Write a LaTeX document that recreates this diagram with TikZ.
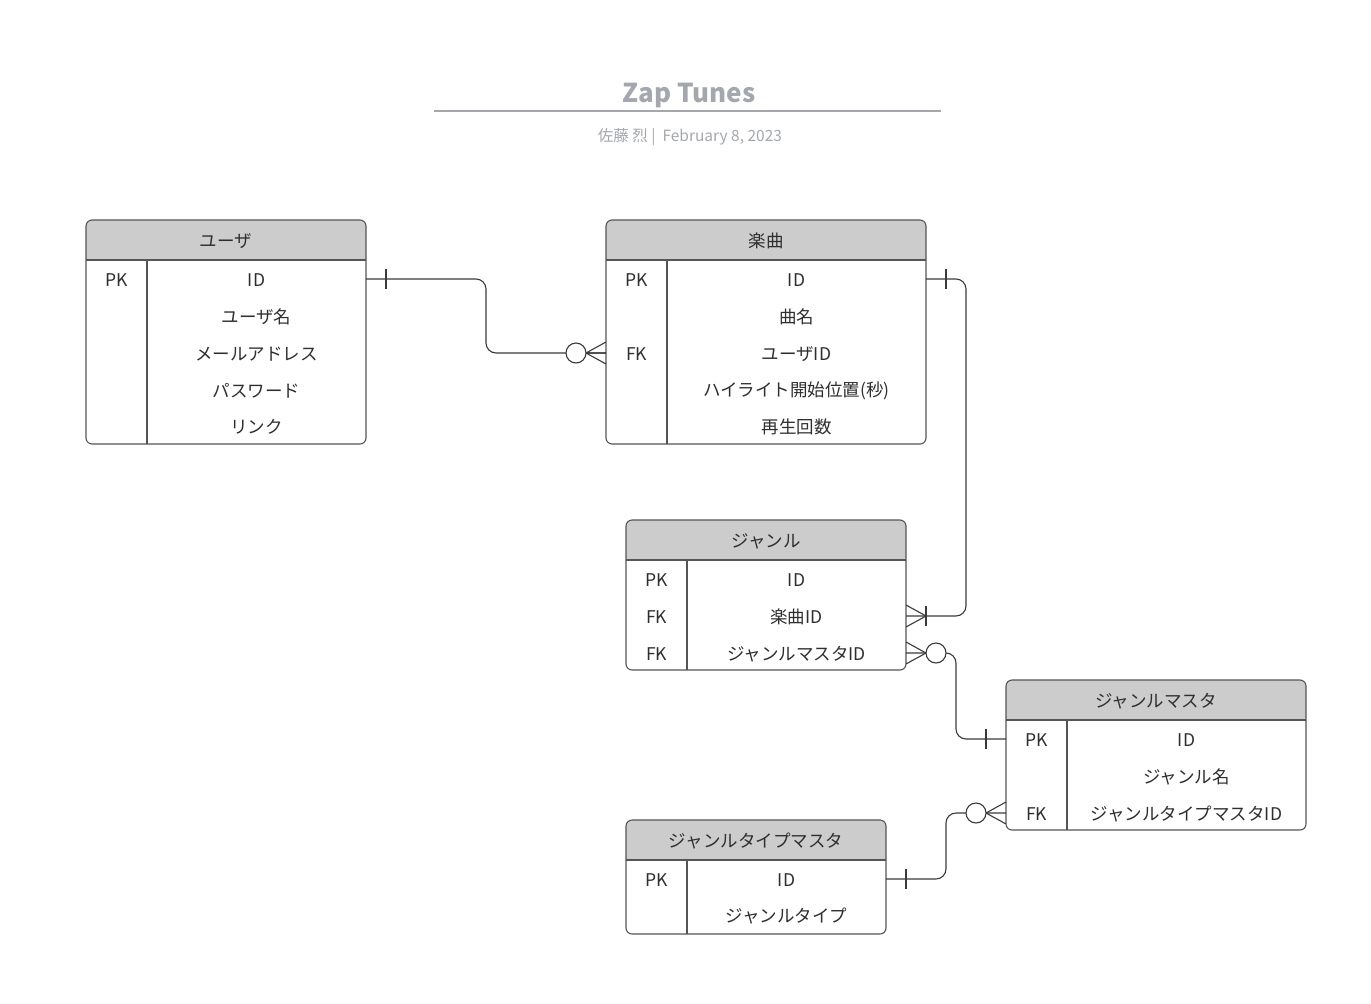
\documentclass[tikz,border=0pt]{standalone}
\usepackage{fontspec}
\setmainfont{Noto Sans CJK JP}
\definecolor{headfill}{HTML}{CCCCCC}
\definecolor{bordercol}{HTML}{555555}
\definecolor{conncol}{HTML}{3A3A3A}
\definecolor{txtcol}{HTML}{2E2E2E}
\definecolor{titlecol}{HTML}{A4A7AE}
\begin{document}
\begin{tikzpicture}[x=1pt,y=-1pt,
  tbl/.style={draw=bordercol,line width=1.1pt,rounded corners=6pt,inner sep=0pt},
  rule/.style={draw=bordercol,line width=1.1pt},
  head/.style={text=txtcol,font=\fontsize{17.5}{20}\selectfont,inner sep=0pt,yshift=-1pt},
  cell/.style={text=txtcol,font=\fontsize{17.5}{20}\selectfont,inner sep=0pt,yshift=-1pt},
  conn/.style={draw=conncol,line width=1.1pt,rounded corners=10pt},
  mk/.style={draw=conncol,line width=1.1pt},
  ring/.style={draw=conncol,line width=1.1pt,fill=white}]
\useasboundingbox (0,0) rectangle (1371,1004);
% title
\node[text=titlecol,font=\bfseries\fontsize{26}{30}\selectfont,inner sep=0pt] (title) at (689,96) {Zap Tunes};
\draw[titlecol,line width=1.8pt] (434,111) -- (941,111);
\node[text=titlecol,font=\fontsize{15.5}{18}\selectfont,inner sep=0pt] (sub) at (690,137) {佐藤 烈 |\ \ February 8, 2023};

% ---------- ユーザ ----------
\fill[headfill] (86,260) [rounded corners=6pt] -- (86,220) -- (366,220) [sharp corners] -- (366,260) -- cycle;
\node[tbl,minimum width=280pt,minimum height=224pt] (user) at (226,332) {};
\draw[rule] (86,260) -- (366,260);
\draw[rule] (147,260) -- (147,444);
\node[head] (user-h) at (226,240) {ユーザ};
\node[cell] (user-pk) at (116.5,279) {PK};
\node[cell] (user-id) at (256.5,279) {ID};
\node[cell] (user-name) at (256.5,316) {ユーザ名};
\node[cell] (user-mail) at (256.5,353) {メールアドレス};
\node[cell] (user-pw) at (256.5,390) {パスワード};
\node[cell] (user-link) at (256.5,426) {リンク};

% ---------- 楽曲 ----------
\fill[headfill] (606,260) [rounded corners=6pt] -- (606,220) -- (926,220) [sharp corners] -- (926,260) -- cycle;
\node[tbl,minimum width=320pt,minimum height=224pt] (song) at (766,332) {};
\draw[rule] (606,260) -- (926,260);
\draw[rule] (667,260) -- (667,444);
\node[head] (song-h) at (766,240) {楽曲};
\node[cell] (song-pk) at (636.5,279) {PK};
\node[cell] (song-fk) at (636.5,353) {FK};
\node[cell] (song-id) at (796.5,279) {ID};
\node[cell] (song-name) at (796.5,316) {曲名};
\node[cell] (song-uid) at (796.5,353) {ユーザID};
\node[cell] (song-hl) at (796.5,390) {ハイライト開始位置(秒)};
\node[cell] (song-cnt) at (796.5,426) {再生回数};

% ---------- ジャンル ----------
\fill[headfill] (626,560) [rounded corners=6pt] -- (626,520) -- (906,520) [sharp corners] -- (906,560) -- cycle;
\node[tbl,minimum width=280pt,minimum height=150pt] (genre) at (766,595) {};
\draw[rule] (626,560) -- (906,560);
\draw[rule] (687,560) -- (687,670);
\node[head] (genre-h) at (766,540) {ジャンル};
\node[cell] (genre-pk) at (656.5,579) {PK};
\node[cell] (genre-fk1) at (656.5,616) {FK};
\node[cell] (genre-fk2) at (656.5,653) {FK};
\node[cell] (genre-id) at (796.5,579) {ID};
\node[cell] (genre-sid) at (796.5,616) {楽曲ID};
\node[cell] (genre-mid) at (796.5,653) {ジャンルマスタID};

% ---------- ジャンルマスタ ----------
\fill[headfill] (1006,720) [rounded corners=6pt] -- (1006,680) -- (1306,680) [sharp corners] -- (1306,720) -- cycle;
\node[tbl,minimum width=300pt,minimum height=150pt] (gm) at (1156,755) {};
\draw[rule] (1006,720) -- (1306,720);
\draw[rule] (1067,720) -- (1067,830);
\node[head] (gm-h) at (1156,700) {ジャンルマスタ};
\node[cell] (gm-pk) at (1036.5,739) {PK};
\node[cell] (gm-fk) at (1036.5,813) {FK};
\node[cell] (gm-id) at (1186.5,739) {ID};
\node[cell] (gm-name) at (1186.5,776) {ジャンル名};
\node[cell] (gm-tid) at (1186.5,813) {ジャンルタイプマスタID};

% ---------- ジャンルタイプマスタ ----------
\fill[headfill] (626,860) [rounded corners=6pt] -- (626,820) -- (886,820) [sharp corners] -- (886,860) -- cycle;
\node[tbl,minimum width=260pt,minimum height=114pt] (gtm) at (756,877) {};
\draw[rule] (626,860) -- (886,860);
\draw[rule] (687,860) -- (687,934);
\node[head] (gtm-h) at (756,840) {ジャンルタイプマスタ};
\node[cell] (gtm-pk) at (656.5,879) {PK};
\node[cell] (gtm-id) at (786.5,879) {ID};
\node[cell] (gtm-type) at (786.5,915) {ジャンルタイプ};

% ---------- attachment points ----------
\coordinate (a-user) at (366,279);
\coordinate (a-songfk) at (606,353);
\coordinate (a-songid) at (926,279);
\coordinate (a-genresid) at (906,616);
\coordinate (a-genremid) at (906,653);
\coordinate (a-gmid) at (1006,739);
\coordinate (a-gmfk) at (1006,813);
\coordinate (a-gtmid) at (886,879);

% ---------- connector 1: ユーザ.ID -> 楽曲.ユーザID ----------
\draw[conn] (a-user) -- (486,279) -- (486,353) -- (a-songfk);
\draw[mk] (386,269) -- (386,289);
\draw[mk] (586,353) -- (606,342) (586,353) -- (a-songfk) (586,353) -- (606,364);
\draw[ring] (576,353) circle (10pt);

% ---------- connector 2: 楽曲.ID -> ジャンル.楽曲ID ----------
\draw[conn] (a-songid) -- (966,279) -- (966,616) -- (a-genresid);
\draw[mk] (946,269) -- (946,289);
\draw[mk] (926,616) -- (906,605) (926,616) -- (906,627);
\draw[mk] (926,606) -- (926,626);

% ---------- connector 3: ジャンル.ジャンルマスタID -> ジャンルマスタ.ID ----------
\draw[conn] (a-genremid) -- (956,653) -- (956,739) -- (a-gmid);
\draw[mk] (986,729) -- (986,749);
\draw[mk] (926,653) -- (906,642) (926,653) -- (906,664);
\draw[ring] (936,653) circle (10pt);

% ---------- connector 4: ジャンルマスタ.FK -> ジャンルタイプマスタ.ID ----------
\draw[conn] (a-gmfk) -- (946,813) -- (946,879) -- (a-gtmid);
\draw[mk] (906,869) -- (906,889);
\draw[mk] (986,813) -- (1006,802) (986,813) -- (1006,824);
\draw[ring] (976,813) circle (10pt);
\end{tikzpicture}
\end{document}
